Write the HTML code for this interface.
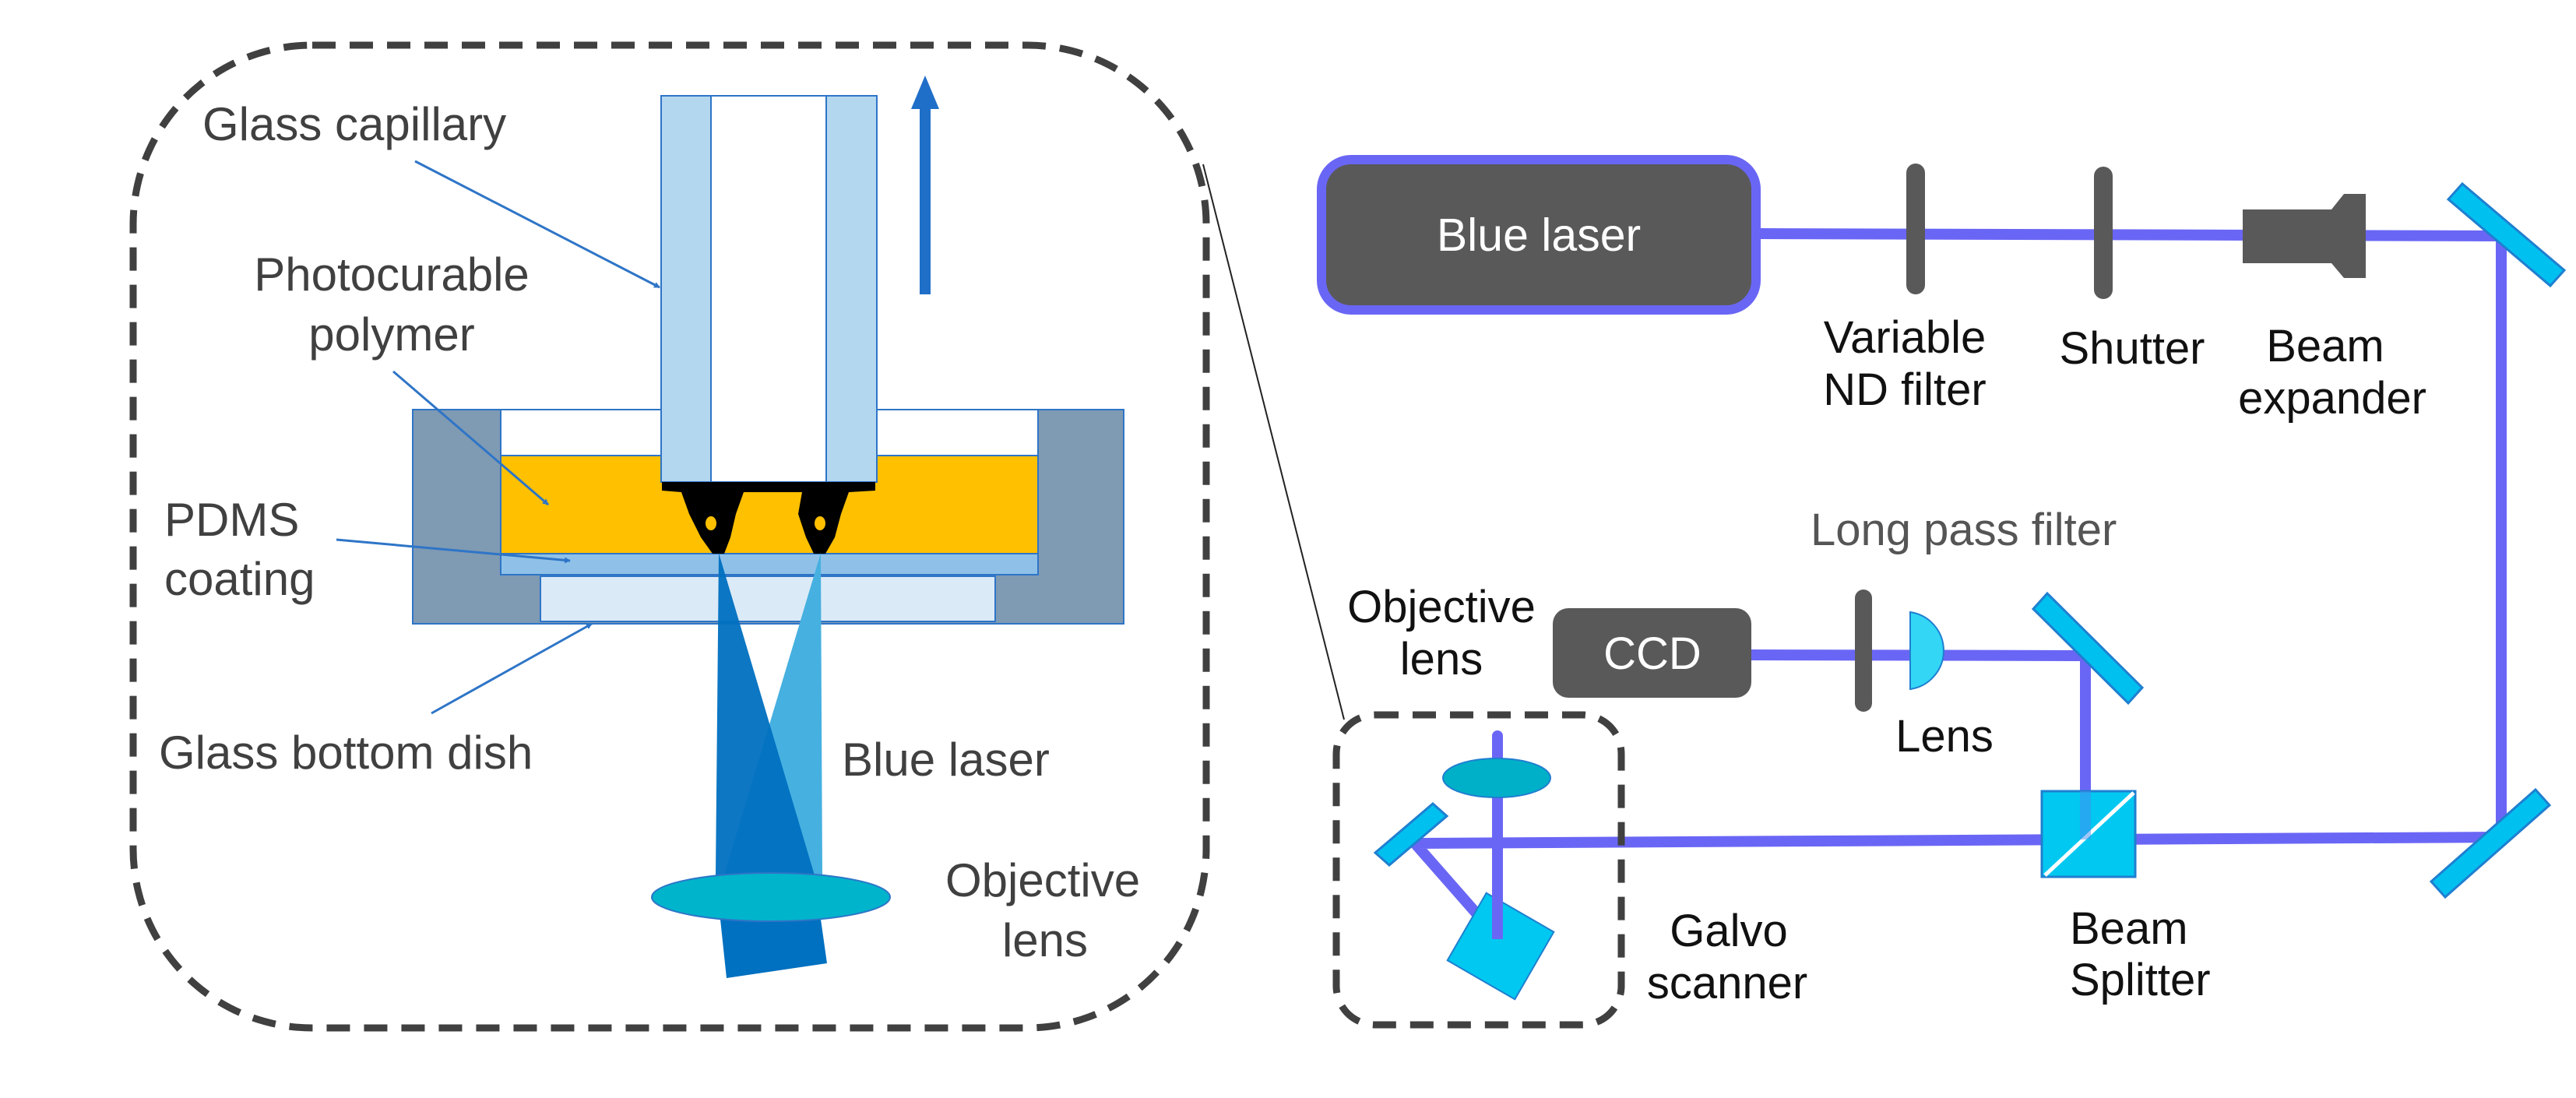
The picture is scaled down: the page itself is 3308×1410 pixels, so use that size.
<!DOCTYPE html>
<html><head><meta charset="utf-8"><style>
html,body{margin:0;padding:0;background:#fff;}
svg{display:block;}
text{font-family:"Liberation Sans",Arial,sans-serif;}
</style></head><body>
<svg width="3308" height="1410" viewBox="0 0 3308 1410" xmlns="http://www.w3.org/2000/svg">
<defs>
<marker id="ah" markerWidth="8" markerHeight="8" refX="7" refY="4" orient="auto" markerUnits="userSpaceOnUse">
<path d="M0,0 L8,4 L0,8 Z" fill="#2e75c7"/>
</marker>
</defs>
<!-- LEFT PANEL -->
<rect x="171" y="58" width="1378" height="1262" rx="230" ry="230" fill="none" stroke="#404040" stroke-width="9" stroke-dasharray="30,18"/>
<rect x="530" y="526" width="913" height="275" fill="#7f9ab3" stroke="#2e75c7" stroke-width="2"/>
<rect x="643" y="526" width="690" height="59" fill="#fff" stroke="#2e75c7" stroke-width="2"/>
<rect x="643" y="585" width="690" height="126" fill="#ffc000" stroke="#2e75c7" stroke-width="2"/>
<rect x="643" y="711" width="690" height="27" fill="#8fc1e8" stroke="#2e75c7" stroke-width="2"/>
<rect x="694" y="740" width="584" height="58" fill="#dbeaf7" stroke="#2e75c7" stroke-width="2"/>
<rect x="849" y="123" width="277" height="496" fill="#b4d7f0" stroke="#2e75c7" stroke-width="2"/>
<rect x="913" y="123" width="148" height="496" fill="#fff" stroke="#2e75c7" stroke-width="2"/>
<path d="M850 619 L1124 619 L1124 630 L1090 632 L1080 660 L1072 690 L1060 711 L1045 711 L1035 690 L1025 660 L1030 632 L955 632 L945 660 L938 690 L930 711 L915 711 L900 690 L885 660 L875 632 L850 630 Z" fill="#000"/>
<ellipse cx="913" cy="672" rx="7" ry="9" fill="#ffc000"/>
<ellipse cx="1053" cy="672" rx="7" ry="9" fill="#ffc000"/>
<line x1="1188" y1="378" x2="1188" y2="135" stroke="#1f6fc9" stroke-width="14"/>
<polygon points="1188,97 1170,140 1206,140" fill="#1f6fc9"/>
<polygon points="1054,710 1056,1124 930,1124" fill="#46b0e0"/>
<polygon points="923,710 919,1124 1046,1124" fill="#0070c0" opacity="0.95"/>
<polygon points="919,1124 1046,1124 1062,1237 933,1256" fill="#0070c0"/>
<ellipse cx="990" cy="1152" rx="153" ry="31" fill="#00b4cc" stroke="#2e75c7" stroke-width="2"/>
<g stroke="#2e75c7" stroke-width="3" marker-end="url(#ah)">
<line x1="533" y1="207" x2="847" y2="369"/>
<line x1="505" y1="477" x2="704" y2="648"/>
<line x1="432" y1="693" x2="732" y2="720"/>
<line x1="554" y1="916" x2="760" y2="801"/>
</g>
<g fill="#404040" font-size="60">
<text x="260" y="180">Glass capillary</text>
<text x="503" y="373" text-anchor="middle">Photocurable</text>
<text x="503" y="450" text-anchor="middle">polymer</text>
<text x="211" y="688">PDMS</text>
<text x="211" y="764">coating</text>
<text x="204" y="987">Glass bottom dish</text>
<text x="1081" y="996">Blue laser</text>
<text x="1214" y="1151">Objective</text>
<text x="1342" y="1228" text-anchor="middle">lens</text>
</g>
<line x1="1545" y1="211" x2="1726" y2="924" stroke="#222" stroke-width="2"/>

<!-- RIGHT PANEL -->
<g stroke="#6a66f5" stroke-width="14" fill="none" stroke-linecap="round">
<polyline points="2259,300 3212,303 3212,1075 1817,1083 1925,1206"/>
<polyline points="2249,841 2678,842 2678,1078"/>
<line x1="1923" y1="945" x2="1923" y2="1206"/>
</g>
<rect x="1697" y="205" width="558" height="193" rx="38" fill="#595959" stroke="#6a66f5" stroke-width="12"/>
<text x="1976" y="322" text-anchor="middle" fill="#fff" font-size="59">Blue laser</text>
<line x1="2460" y1="222" x2="2460" y2="366" stroke="#595959" stroke-width="24" stroke-linecap="round"/>
<line x1="2701" y1="226" x2="2701" y2="372" stroke="#595959" stroke-width="24" stroke-linecap="round"/>
<polygon points="2880,269 2994,269 3010,249 3038,249 3038,357 3010,357 2994,338 2880,338" fill="#595959"/>
<g stroke="#1f7fd0" stroke-width="3" fill="#00c0f0">
<polygon points="3144,256 3162,236 3293,347 3275,367"/>
<polygon points="3256,1014 3274,1034 3140,1152 3122,1132"/>
<polygon points="2611,782 2629,762 2751,883 2733,903"/>
<polygon points="1766,1095 1784,1111 1858,1048 1840,1032"/>
<rect x="2622" y="1016" width="120" height="110" fill="#00c8f0"/>
</g>
<line x1="2626" y1="1124" x2="2740" y2="1018" stroke="#fff" stroke-width="5"/>
<line x1="2678" y1="1016" x2="2678" y2="1078" stroke="#4a8cf0" stroke-width="14" opacity="0.5"/>
<rect x="1994" y="781" width="255" height="115" rx="20" fill="#595959"/>
<text x="2122" y="859" text-anchor="middle" fill="#fff" font-size="58">CCD</text>
<line x1="2393" y1="768" x2="2393" y2="903" stroke="#595959" stroke-width="22" stroke-linecap="round"/>
<path d="M2453 786 A50 50 0 0 1 2453 885 Z" fill="#33d6f5" stroke="#1f7fd0" stroke-width="2"/>
<rect x="1716" y="918" width="366" height="398" rx="50" fill="none" stroke="#404040" stroke-width="9" stroke-dasharray="30,18"/>
<ellipse cx="1922" cy="999" rx="69" ry="25" fill="#00b0c8" stroke="#1f7fd0" stroke-width="2"/>
<rect x="1877" y="1165" width="100" height="100" fill="#00c8f0" stroke="#1f7fd0" stroke-width="2" transform="rotate(30 1927 1215)"/>
<line x1="1923" y1="1150" x2="1923" y2="1206" stroke="#6a66f5" stroke-width="14"/>
<g fill="#111" font-size="58" text-anchor="middle">
<text x="2446" y="453">Variable</text>
<text x="2446" y="520">ND filter</text>
<text x="2738" y="467">Shutter</text>
<text x="2986" y="464">Beam</text>
<text x="2995" y="531">expander</text>
<text x="1851" y="799">Objective</text>
<text x="1851" y="866">lens</text>
<text x="2497" y="965">Lens</text>
<text x="2220" y="1215">Galvo</text>
<text x="2218" y="1282">scanner</text>
</g>
<g fill="#111" font-size="58">
<text x="2658" y="1212">Beam</text>
<text x="2658" y="1278">Splitter</text>
</g>
<text x="2325" y="700" fill="#555" font-size="58">Long pass filter</text>
</svg>
</body></html>
